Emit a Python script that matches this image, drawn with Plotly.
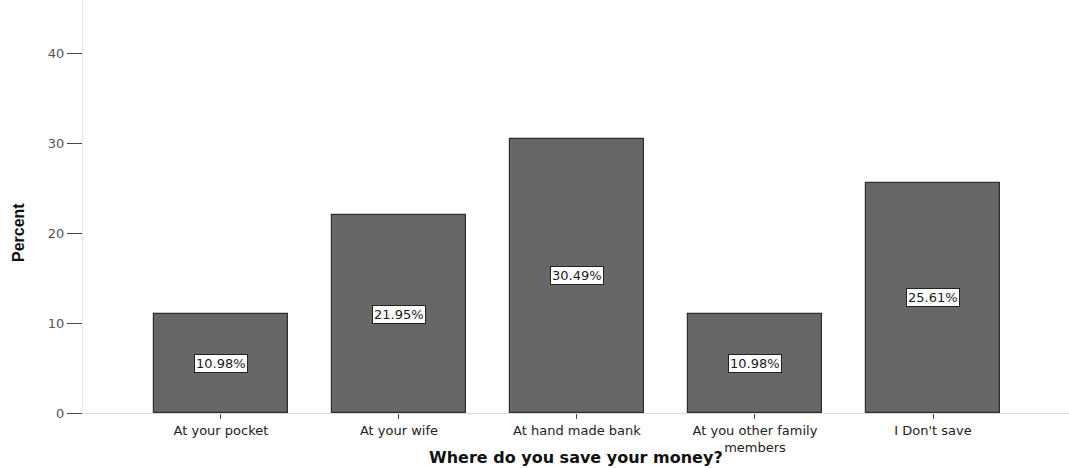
import plotly.graph_objects as go

# Where do you save your money? (percent of respondents)
categories = ["At your pocket", "At your wife", "At hand made bank",
              "At you other family<br>members", "I Don't save"]
percents = [10.98, 21.95, 30.49, 10.98, 25.61]
y_ticks = [0, 10, 20, 30, 40]

W, H = 1069, 468
M_L, M_B = 83, 55

fig = go.Figure(
    go.Bar(
        x=list(range(len(categories))),
        y=percents,
        width=0.753,
        marker=dict(color="#676767", line=dict(color="#2e2e2e", width=1.2)),
        hoverinfo="skip",
    )
)

# value boxes at the vertical middle of each bar
for i, v in enumerate(percents):
    fig.add_annotation(
        x=i, y=v / 2, xref="x", yref="y",
        text=f"{v:.2f}%", showarrow=False,
        font=dict(family="DejaVu Sans", size=13, color="#1a1a1a"),
        bgcolor="white", bordercolor="#222222", borderwidth=1, borderpad=1,
    )

plot_h = H - M_B
fig.add_annotation(
    x=0.5, y=(plot_h - 457) / plot_h, xref="paper", yref="paper",
    text="<b>Where do you save your money?</b>", showarrow=False,
    xanchor="center", yanchor="middle",
    font=dict(family="DejaVu Sans", size=16, color="#111111"),
)
fig.add_annotation(
    x=(18 - M_L) / (W - M_L), y=(plot_h - 233) / plot_h,
    xref="paper", yref="paper",
    text="<b>Percent</b>", showarrow=False, textangle=-90,
    xanchor="center", yanchor="middle",
    font=dict(family="Liberation Sans Narrow, Arial Narrow, sans-serif",
              size=16, color="#111111"),
)

fig.update_layout(
    width=W, height=H,
    margin=dict(l=M_L, r=0, t=0, b=M_B),
    paper_bgcolor="white", plot_bgcolor="white",
    showlegend=False,
    bargap=0,
    xaxis=dict(
        range=[-0.775, 4.764],
        tickmode="array",
        tickvals=list(range(len(categories))),
        ticktext=categories,
        ticks="outside", ticklen=5, tickcolor="#444444", tickwidth=1,
        showline=True, linecolor="#dcdcdc", linewidth=1,
        showgrid=False, zeroline=False,
        tickfont=dict(family="DejaVu Sans", size=13, color="#222222"),
        fixedrange=True,
    ),
    yaxis=dict(
        range=[0, 413 / 9],
        tickmode="array",
        tickvals=y_ticks,
        ticktext=[str(t) for t in y_ticks],
        ticks="outside", ticklen=15, tickcolor="#444444", tickwidth=1,
        showline=True, linecolor="#e4e4e4", linewidth=1,
        showgrid=False, zeroline=False,
        tickfont=dict(family="DejaVu Sans", size=13, color="#555555"),
        fixedrange=True,
    ),
)

fig.write_html("out.html")
